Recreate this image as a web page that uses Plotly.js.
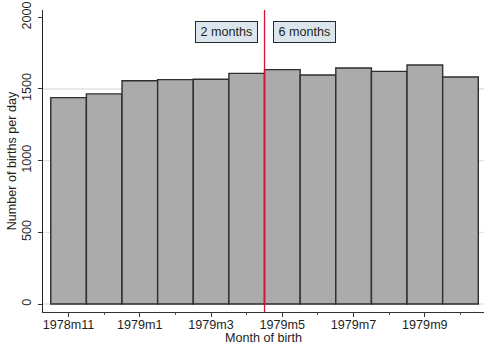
<!DOCTYPE html>
<html>
<head>
<meta charset="utf-8">
<script src="https://cdn.plot.ly/plotly-3.0.1.min.js"></script>
<style>
  html, body { margin: 0; padding: 0; background: #fff; }
  #chart { width: 485px; height: 345px; }
</style>
</head>
<body>
<div id="chart"></div>
<script>
// Months of birth, Nov 1978 to Oct 1979
const months = ["1978m11", "1978m12", "1979m1", "1979m2", "1979m3", "1979m4",
                "1979m5", "1979m6", "1979m7", "1979m8", "1979m9", "1979m10"];
// Average number of births per day in each month
const birthsPerDay = [1440, 1466, 1557, 1565, 1568, 1609, 1635, 1598, 1646, 1623, 1667, 1584];
// Y axis ticks and the light reference lines behind the bars
const yTicks = [0, 500, 1000, 1500, 2000];
const yGridLines = [0, 500, 1000, 1500];
// Cut-off between the two groups: between 1979m4 and 1979m5
const cutoffAfter = "1979m4";
const leftLabel = "2 months";
const rightLabel = "6 months";

const xIdx = months.map((m, i) => i);
const majorIdx = xIdx.filter(i => i % 2 === 0);
const minorIdx = xIdx.filter(i => i % 2 === 1);
const cutoffX = months.indexOf(cutoffAfter) + 0.5;

const font = { family: "Liberation Sans, Arial, Helvetica, sans-serif", size: 12.6, color: "#1e1e1e" };

const bars = {
  type: "bar",
  x: xIdx,
  y: birthsPerDay,
  width: 1,
  marker: { color: "#ababab", line: { color: "#2e2e2e", width: 1.4 } },
  hoverinfo: "skip"
};

const shapes = yGridLines.map(v => ({
  type: "line", xref: "paper", yref: "y", x0: 0, x1: 1, y0: v, y1: v,
  line: { color: "#e2e2e2", width: 1.3 }, layer: "below"
}));
shapes.push({
  type: "line", xref: "x", yref: "paper", x0: cutoffX, x1: cutoffX, y0: 0, y1: 1,
  line: { color: "#d8103c", width: 1.3 }, layer: "above"
});

const boxStyle = {
  xref: "x", yref: "paper", y: 0.928, yanchor: "middle",
  showarrow: false, bgcolor: "#dbe6ec", bordercolor: "#2a2a2a",
  borderwidth: 1, borderpad: 0, width: 61, height: 20, font: font
};

const layout = {
  width: 485, height: 345,
  margin: { l: 43, r: 1, t: 10, b: 33, pad: 0 },
  paper_bgcolor: "#ffffff", plot_bgcolor: "#ffffff",
  font: font,
  showlegend: false,
  bargap: 0,
  xaxis: {
    range: [-0.718, 11.66],
    tickmode: "array",
    tickvals: majorIdx,
    ticktext: majorIdx.map(i => months[i]),
    ticks: "outside", ticklen: 4, tickwidth: 1, tickcolor: "#333",
    ticklabelstandoff: -3,
    minor: { tickmode: "array", tickvals: minorIdx, ticks: "outside", ticklen: 2, tickwidth: 1, tickcolor: "#555" },
    showline: true, linecolor: "#333", linewidth: 1,
    showgrid: false, zeroline: false,
    tickfont: font,
    title: { text: "Month of birth", font: font, standoff: 3 }
  },
  yaxis: {
    range: [-55.8, 2051],
    tickmode: "array",
    tickvals: yTicks,
    ticktext: yTicks.map(String),
    tickangle: -90,
    ticks: "outside", ticklen: 4, tickwidth: 1, tickcolor: "#333",
    ticklabelstandoff: 2,
    showline: true, linecolor: "#222", linewidth: 1,
    showgrid: false, zeroline: false,
    tickfont: font,
    title: { text: "Number of births per day", font: font, standoff: 0 }
  },
  shapes: shapes,
  annotations: [
    Object.assign({}, boxStyle, { x: cutoffX, xanchor: "right", xshift: -7, text: leftLabel }),
    Object.assign({}, boxStyle, { x: cutoffX, xanchor: "left", xshift: 8, text: rightLabel })
  ]
};

Plotly.newPlot("chart", [bars], layout, { displayModeBar: false, staticPlot: true });
</script>
</body>
</html>
